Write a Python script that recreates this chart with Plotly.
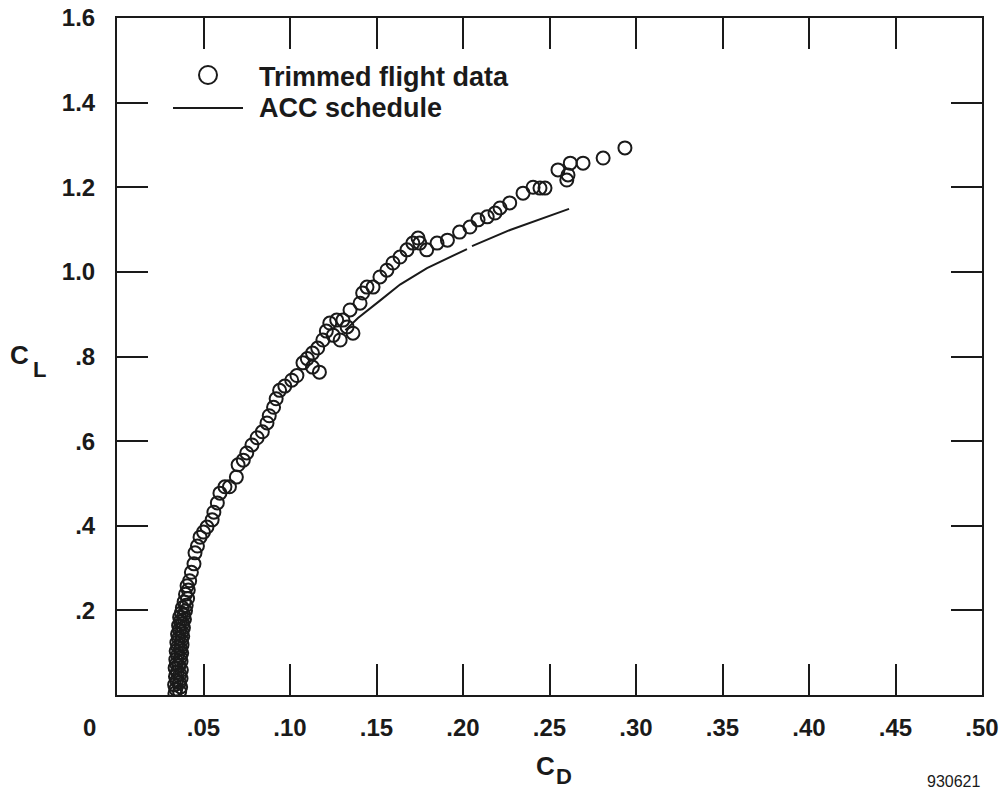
import plotly.graph_objects as go

# ---- data ----
flight_cd = [0.0335,0.0362,0.0340,0.0368,0.0333,0.0360,0.0345,0.0370,0.0338,0.0364,
             0.0348,0.0372,0.0336,0.0358,0.0344,0.0370,0.0340,0.0366,0.0350,0.0374,
             0.0342,0.0368,0.0352,0.0376,0.0346,0.0372,0.0356,0.0380,0.0350,0.0376,
             0.0360,0.0384,0.0356,0.0380,0.0366,0.0390,0.0362,0.0386,0.0372,0.0396,
             0.0378,0.0400,0.0388,0.0408,0.0396,0.0412,0.0405,0.0420,
             0.0430,0.0445,0.0451,0.0465,0.0480,0.0500,0.0520,0.0550,0.0560,0.0580,
             0.0595,0.0624,0.0650,0.0690,0.0700,0.0730,0.0750,0.0780,0.0810,0.0840,
             0.0867,0.0880,0.0905,0.0920,0.0940,0.0970,0.1010,0.1040,0.1075,0.1100,
             0.1130,0.1170,0.1130,0.1160,0.1190,0.1210,0.1230,0.1270,0.1306,0.1290,
             0.1250,0.1364,0.1330,0.1347,0.1405,0.1420,0.1445,0.1480,0.1520,0.1560,
             0.1595,0.1636,0.1676,0.1710,0.1740,0.1750,0.1790,0.1850,0.1910,0.1980,
             0.2040,0.2087,0.2140,0.2185,0.2214,0.2270,0.2347,0.2405,0.2445,0.2474,
             0.2549,0.2620,0.2600,0.2607,0.2694,0.2810,0.2936]
flight_cl = [0.004,0.008,0.014,0.019,0.024,0.029,0.034,0.039,0.044,0.049,
             0.054,0.059,0.064,0.069,0.074,0.079,0.084,0.089,0.094,0.099,
             0.104,0.109,0.114,0.119,0.124,0.129,0.134,0.139,0.144,0.149,
             0.154,0.159,0.164,0.169,0.174,0.179,0.184,0.189,0.194,0.199,
             0.206,0.212,0.220,0.228,0.238,0.248,0.258,0.270,
             0.290,0.310,0.336,0.352,0.373,0.385,0.397,0.414,0.432,0.454,
             0.477,0.492,0.492,0.515,0.544,0.555,0.572,0.591,0.608,0.622,
             0.643,0.660,0.680,0.700,0.720,0.730,0.744,0.755,0.785,0.795,
             0.808,0.763,0.775,0.820,0.839,0.860,0.879,0.886,0.886,0.839,
             0.850,0.855,0.870,0.910,0.926,0.950,0.964,0.964,0.988,1.004,
             1.021,1.035,1.052,1.068,1.080,1.068,1.052,1.068,1.075,1.094,
             1.106,1.123,1.130,1.139,1.151,1.163,1.186,1.200,1.198,1.198,
             1.241,1.257,1.217,1.229,1.257,1.269,1.293]

acc_cd = [0.132, 0.1393, 0.152, 0.1636, 0.1792, 0.2023, None, 0.2052, 0.2272, 0.2613]
acc_cl = [0.862, 0.891, 0.932, 0.970, 1.009, 1.054, None, 1.061, 1.099, 1.149]

x_ticks = [0.05, 0.10, 0.15, 0.20, 0.25, 0.30, 0.35, 0.40, 0.45, 0.50]
x_labels = [".05", ".10", ".15", ".20", ".25", ".30", ".35", ".40", ".45", ".50"]
y_ticks = [0.2, 0.4, 0.6, 0.8, 1.0, 1.2, 1.4, 1.6]
y_labels = [".2", ".4", ".6", ".8", "1.0", "1.2", "1.4", "1.6"]

# page layout (body margin is removed by post_script, so figure starts at 0,0)
W, H = 1005, 792
PLOT_L, PLOT_R, PLOT_T, PLOT_B = 117, 982, 18, 695  # plot frame in page pixels
L, T, R, B = PLOT_L, PLOT_T, W - PLOT_R, H - PLOT_B
PW, PH = PLOT_R - PLOT_L, PLOT_B - PLOT_T
INK = "#1a1a1a"
FONT = "Liberation Sans, Arial, Helvetica, sans-serif"


def px(xp):
    return (xp - PLOT_L) / PW


def py(yp):
    return (PLOT_B - yp) / PH


fig = go.Figure()
fig.add_trace(go.Scatter(x=acc_cd, y=acc_cl, mode="lines", name="ACC schedule",
                         line=dict(color=INK, width=2), connectgaps=False,
                         showlegend=False))
fig.add_trace(go.Scatter(x=flight_cd, y=flight_cl, mode="markers",
                         name="Trimmed flight data",
                         marker=dict(symbol="circle-open", size=13,
                                     color=INK, line=dict(width=2, color=INK)),
                         showlegend=False))

axis_common = dict(showline=True, linecolor=INK, linewidth=2, mirror="allticks",
                   ticks="inside", ticklen=31, tickwidth=2, tickcolor=INK,
                   showgrid=False, zeroline=False, automargin=False,
                   ticklabeloverflow="allow",
                   tickfont=dict(family=FONT, size=24, color=INK, weight="bold"))

fig.update_xaxes(range=[0, 0.5], tickvals=x_ticks, ticktext=x_labels,
                 ticklabelstandoff=10, **axis_common)
fig.update_yaxes(range=[0, 1.6], tickvals=y_ticks, ticktext=y_labels,
                 ticklabelstandoff=15, **axis_common)

bold = dict(family=FONT, color=INK)
ann = []
ann.append(dict(text="<b>0</b>", x=px(89), y=py(727), xref="paper", yref="paper",
                showarrow=False, xanchor="center", yanchor="middle",
                font=dict(size=24, **bold)))
ann.append(dict(text="<b>C</b>", x=px(19), y=py(355), xref="paper", yref="paper",
                showarrow=False, xanchor="center", yanchor="middle",
                font=dict(size=26, **bold)))
ann.append(dict(text="<b>L</b>", x=px(39), y=py(369), xref="paper", yref="paper",
                showarrow=False, xanchor="center", yanchor="middle",
                font=dict(size=22, **bold)))
ann.append(dict(text="<b>C</b>", x=px(545), y=py(766), xref="paper", yref="paper",
                showarrow=False, xanchor="center", yanchor="middle",
                font=dict(size=26, **bold)))
ann.append(dict(text="<b>D</b>", x=px(564), y=py(776), xref="paper", yref="paper",
                showarrow=False, xanchor="center", yanchor="middle",
                font=dict(size=22, **bold)))
ann.append(dict(text="930621", x=px(982), y=py(781), xref="paper", yref="paper",
                showarrow=False, xanchor="right", yanchor="middle",
                font=dict(size=16, family=FONT, color=INK)))
ann.append(dict(text="<b>Trimmed flight data</b>", x=px(257), y=py(77),
                xref="paper", yref="paper", showarrow=False, xanchor="left",
                yanchor="middle", font=dict(size=27, **bold)))
ann.append(dict(text="<b>ACC schedule</b>", x=px(257), y=py(108),
                xref="paper", yref="paper", showarrow=False, xanchor="left",
                yanchor="middle", font=dict(size=27, **bold)))

shapes = [
    dict(type="line", xref="paper", yref="paper", x0=px(173), x1=px(243),
         y0=py(108), y1=py(108), line=dict(color=INK, width=2)),
    dict(type="circle", xref="paper", yref="paper", xsizemode="pixel",
         ysizemode="pixel", xanchor=px(208), yanchor=py(75),
         x0=-9, x1=9, y0=-9, y1=9, line=dict(color=INK, width=2)),
]

fig.update_layout(width=W, height=H, autosize=False,
                  margin=dict(l=L, r=R, t=T, b=B),
                  paper_bgcolor="white", plot_bgcolor="white",
                  annotations=ann, shapes=shapes, showlegend=False)

fig.write_html("out.html",
               config={"displayModeBar": False},
               post_script="document.body.style.margin='0';"
                           "document.body.style.overflow='hidden';")
